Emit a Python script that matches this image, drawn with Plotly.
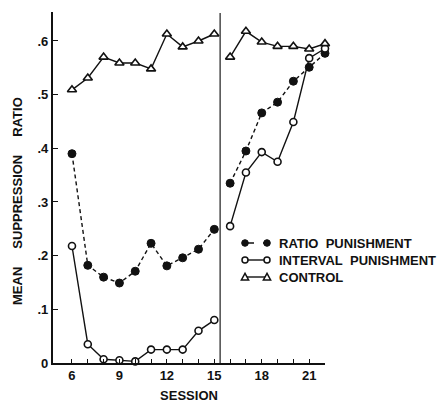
import plotly.graph_objects as go

# ---- data ----
sessions_phase1 = [6, 7, 8, 9, 10, 11, 12, 13, 14, 15]
sessions_phase2 = [16, 17, 18, 19, 20, 21, 22]

ratio_phase1 = [0.390, 0.182, 0.160, 0.149, 0.171, 0.223, 0.181, 0.196, 0.212, 0.249]
ratio_phase2 = [0.335, 0.395, 0.466, 0.486, 0.525, 0.551, 0.577]

interval_phase1 = [0.218, 0.035, 0.007, 0.005, 0.003, 0.025, 0.025, 0.025, 0.060, 0.080]
interval_phase2 = [0.255, 0.355, 0.393, 0.375, 0.449, 0.568, 0.586]

control_phase1 = [0.509, 0.531, 0.570, 0.559, 0.559, 0.548, 0.613, 0.589, 0.600, 0.613]
control_phase2 = [0.570, 0.618, 0.598, 0.590, 0.590, 0.585, 0.595]

series_names = ["RATIO\u00a0\u00a0PUNISHMENT", "INTERVAL\u00a0\u00a0PUNISHMENT", "CONTROL"]

phase_break = 15.37

x_tickvals = list(range(6, 23))
x_labels = {6: "6", 9: "9", 12: "12", 15: "15", 18: "18", 21: "21"}
x_ticktext = [x_labels.get(v, "") for v in x_tickvals]

y_tickvals = [0, 0.1, 0.2, 0.3, 0.4, 0.5, 0.6, 0.654]
y_ticktext = ["0", ".1", ".2", ".3", ".4", ".5", ".6", ""]

INK = "#111111"
FONT = "Liberation Sans, Arial, sans-serif"
W, H = 437, 403
ML, MR, MT, MB = 53, 112, 12, 40
PW, PH = W - ML - MR, H - MT - MB


def joined(a, b):
    return list(a) + [None] + list(b)


def px(xp):
    return (xp - ML) / PW


def py(yp):
    return (H - MB - yp) / PH


fig = go.Figure()

fig.add_trace(go.Scatter(
    x=joined(sessions_phase1, sessions_phase2),
    y=joined(ratio_phase1, ratio_phase2),
    mode="lines+markers", name=series_names[0],
    line=dict(color=INK, width=1.4, dash="4px,3px"),
    marker=dict(symbol="circle", size=8, color=INK, line=dict(color=INK, width=1)),
    connectgaps=False, cliponaxis=False,
))
fig.add_trace(go.Scatter(
    x=joined(sessions_phase1, sessions_phase2),
    y=joined(interval_phase1, interval_phase2),
    mode="lines+markers", name=series_names[1],
    line=dict(color=INK, width=1.4),
    marker=dict(symbol="circle", size=7, color="white", line=dict(color=INK, width=1.6)),
    connectgaps=False, cliponaxis=False,
))
fig.add_trace(go.Scatter(
    x=joined(sessions_phase1, sessions_phase2),
    y=joined(control_phase1, control_phase2),
    mode="lines+markers", name="CONTROL",
    line=dict(color=INK, width=1.4),
    marker=dict(symbol="triangle-up", size=8, color="white", line=dict(color=INK, width=1.6)),
    connectgaps=False, cliponaxis=False,
))

# phase divider
fig.add_shape(type="line", xref="x", yref="paper",
              x0=phase_break, x1=phase_break, y0=0, y1=0.997,
              line=dict(color="#555555", width=1.6), layer="below")

# ---- hand-drawn style legend (keys with a marker at both ends) ----
leg_x0, leg_x1, leg_text_x = 245, 267, 277
leg_rows = [243, 260, 277]
dashes = ["dash", "solid", "solid"]
for i, (row, name, dsh) in enumerate(zip(leg_rows, series_names, dashes)):
    fig.add_shape(type="line", xref="paper", yref="paper",
                  x0=px(leg_x0), x1=px(leg_x1), y0=py(row), y1=py(row),
                  line=dict(color=INK, width=1.4, dash=dsh))
    for cx in (leg_x0, leg_x1):
        if i == 0:
            r = 3.3
            fig.add_shape(type="circle", xref="paper", yref="paper",
                          x0=px(cx - r), x1=px(cx + r), y0=py(row + r), y1=py(row - r),
                          fillcolor=INK, line=dict(color=INK, width=1))
        elif i == 1:
            r = 3.0
            fig.add_shape(type="circle", xref="paper", yref="paper",
                          x0=px(cx - r), x1=px(cx + r), y0=py(row + r), y1=py(row - r),
                          fillcolor="white", line=dict(color=INK, width=1.5))
        else:
            s = 3.6
            path = "M {:.4f},{:.4f} L {:.4f},{:.4f} L {:.4f},{:.4f} Z".format(
                px(cx), py(row - s), px(cx - s), py(row + s * 0.8), px(cx + s), py(row + s * 0.8))
            fig.add_shape(type="path", xref="paper", yref="paper", path=path,
                          fillcolor="white", line=dict(color=INK, width=1.5))
    fig.add_annotation(text=name, xref="paper", yref="paper",
                       x=px(leg_text_x), y=py(row), xanchor="left", yanchor="middle",
                       showarrow=False, font=dict(family=FONT, size=13, color=INK, weight="bold"))

fig.add_annotation(
    text="MEAN\u00a0\u00a0\u00a0\u00a0\u00a0SUPPRESSION\u00a0\u00a0\u00a0\u00a0\u00a0RATIO",
    xref="paper", yref="paper", x=px(17), y=py(201),
    textangle=-90, showarrow=False, xanchor="center", yanchor="middle",
    font=dict(family=FONT, size=13, color=INK, weight="bold"),
)

fig.update_layout(
    width=W, height=H,
    margin=dict(l=ML, r=MR, t=MT, b=MB, pad=0, autoexpand=False),
    paper_bgcolor="white", plot_bgcolor="white",
    font=dict(family=FONT, size=13, color=INK),
    showlegend=False,
    xaxis=dict(
        range=[4.8, 22.0], showgrid=False, zeroline=False,
        showline=True, linecolor=INK, linewidth=1.6,
        tickmode="array", tickvals=x_tickvals, ticktext=x_ticktext,
        ticks="inside", ticklen=4, tickwidth=1.2, tickcolor=INK,
        tickfont=dict(family=FONT, size=13, color=INK, weight="bold"),
        title=dict(text="SESSION", font=dict(family=FONT, size=13, color=INK, weight="bold"), standoff=8),
    ),
    yaxis=dict(
        range=[0, 0.654], showgrid=False, zeroline=False,
        showline=True, linecolor=INK, linewidth=2.2,
        tickmode="array", tickvals=y_tickvals, ticktext=y_ticktext,
        ticks="inside", ticklen=5, tickwidth=1.4, tickcolor=INK,
        tickfont=dict(family=FONT, size=13, color=INK, weight="bold"),
    ),
)

fig.write_html(
    "out.html",
    config={"displayModeBar": False},
    post_script="document.body.style.margin='0';document.body.style.overflow='hidden';",
)
